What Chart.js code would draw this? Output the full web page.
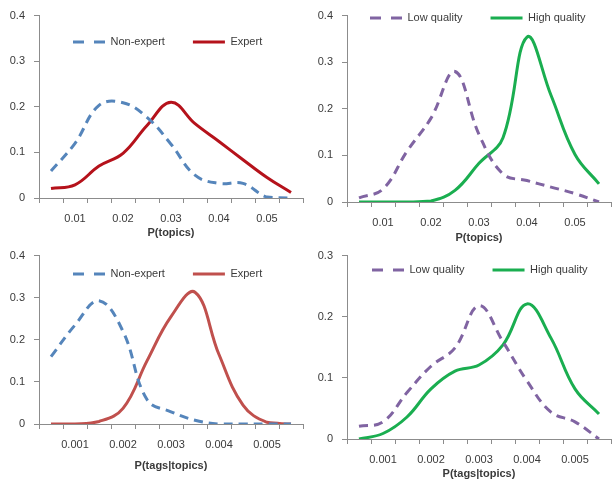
<!DOCTYPE html>
<html>
<head>
<meta charset="utf-8">
<script src="https://cdn.jsdelivr.net/npm/chart.js@4.4.1/dist/chart.umd.min.js"></script>
<style>
  body { margin: 0; background: #fff; }
  #wrap { position: relative; width: 616px; height: 481px; overflow: hidden; }
  canvas { position: absolute; }
</style>
</head>
<body>
<div id="wrap">
  <canvas id="chartTopicsExpert" width="308" height="240" style="left:0;top:0"></canvas>
  <canvas id="chartTopicsQuality" width="308" height="246" style="left:308px;top:0"></canvas>
  <canvas id="chartTagsExpert" width="308" height="241" style="left:0;top:240px"></canvas>
  <canvas id="chartTagsQuality" width="308" height="241" style="left:308px;top:240px"></canvas>
</div>
<script>
const topicLabels = ['0.005', '0.01', '0.015', '0.02', '0.025', '0.03', '0.035', '0.04', '0.045', '0.05', '0.055'];
const tagLabels = ['0.0005', '0.001', '0.0015', '0.002', '0.0025', '0.003', '0.0035', '0.004', '0.0045', '0.005', '0.0055'];

const topicNonExpert = [0.059, 0.12, 0.203, 0.209, 0.177, 0.118, 0.05, 0.032, 0.032, 0.002, 0];
const topicExpert = [0.021, 0.029, 0.07, 0.098, 0.159, 0.21, 0.163, 0.124, 0.084, 0.045, 0.012];
const topicLowQuality = [0.009, 0.028, 0.109, 0.18, 0.28, 0.145, 0.06, 0.046, 0.032, 0.018, 0];
const topicHighQuality = [0, 0, 0, 0.002, 0.025, 0.083, 0.138, 0.354, 0.229, 0.102, 0.039];

const tagNonExpert = [0.16, 0.235, 0.293, 0.22, 0.058, 0.029, 0.009, 0, 0, 0, 0];
const tagExpert = [0, 0, 0.006, 0.037, 0.15, 0.255, 0.313, 0.165, 0.045, 0.004, 0];
const tagLowQuality = [0.021, 0.028, 0.076, 0.119, 0.149, 0.218, 0.159, 0.095, 0.044, 0.028, 0];
const tagHighQuality = [0, 0.009, 0.036, 0.082, 0.111, 0.121, 0.154, 0.221, 0.165, 0.082, 0.041];

const axisGray = '#8c8c8c';
const textColor = '#3a3a3a';
Chart.defaults.font.family = "'Liberation Sans', Arial, sans-serif";
Chart.defaults.font.size = 11;
Chart.defaults.color = textColor;

// legend sits inside the plot, so it must not take any layout height
const legendInside = {
  id: 'legendInside',
  afterInit(chart) {
    const lg = chart.legend;
    const fit = lg.fit;
    lg.fit = function() {
      fit.call(this);
      this.height = 0;
    };
  },
  beforeDraw(chart, args, opts) {
    const lg = chart.legend;
    const pad = lg.options.labels.padding;
    lg.left = opts.x - pad;
    lg.right = lg.left + chart.width;
    lg.top = opts.y - pad - 5.5;
    lg.bottom = lg.top + pad + 20;  // legend clips to its box
  }
};

// point-style legend items take the point's style, so copy the line dash back in
function legendItems(chart) {
  let items = Chart.defaults.plugins.legend.labels.generateLabels(chart);
  items.forEach(function(item) {
    let ds = chart.data.datasets[item.datasetIndex];
    item.lineDash = ds.borderDash.length ? [11, 10] : [];
    item.lineWidth = ds.borderWidth;
  });
  return items;
}

function series(label, values, color, dashed) {
  return {
    label: label,
    data: values,
    borderColor: color,
    backgroundColor: color,
    borderWidth: 3,
    borderDash: dashed ? [9, 6] : [],
    pointRadius: 0,
    tension: 0.4,
    fill: false,
  };
}

function createChart(canvasId, p) {
  let ctx = document.getElementById(canvasId).getContext('2d');
  return new Chart(ctx, {
    type: 'line',
    data: {
      labels: p.labels,
      datasets: p.datasets,
    },
    plugins: [legendInside],
    options: {
      responsive: false,
      animation: false,
      layout: { padding: { left: 0, right: 5, top: p.top, bottom: 0 } },
      plugins: {
        tooltip: { enabled: false },
        legend: {
          position: 'top',
          align: 'start',
          labels: {
            usePointStyle: true,
            pointStyle: 'line',
            pointStyleWidth: 32,
            padding: 28,
            color: textColor,
            font: { size: 11 },
            generateLabels: legendItems,
          },
        },
        legendInside: { x: p.legendX, y: p.legendY },
      },
      scales: {
        x: {
          type: 'category',
          offset: true,
          afterFit: function(scale) { scale.height = p.xHeight; },
          grid: { offset: true, drawOnChartArea: false, drawTicks: true, tickLength: 5, color: axisGray },
          border: { display: true, color: axisGray },
          ticks: {
            autoSkip: false,
            maxRotation: 0,
            padding: 9,
            callback: function(val, i) { return i % 2 === 1 ? this.getLabelForValue(val) : ''; },
          },
          title: {
            display: true,
            text: p.title,
            color: textColor,
            font: { size: 11, weight: 'bold' },
            padding: { top: 0, bottom: p.titlePad },
          },
        },
        y: {
          min: 0,
          max: p.yMax,
          afterFit: function(scale) { scale.width = 39; },
          grid: { drawOnChartArea: false, drawTicks: true, tickLength: 5, color: axisGray },
          border: { display: true, color: axisGray },
          ticks: { stepSize: 0.1, padding: 9 },
        },
      },
    },
  });
}

createChart('chartTopicsExpert', {
  labels: topicLabels,
  datasets: [series('Non-expert', topicNonExpert, '#5585bb', true), series('Expert', topicExpert, '#b5121b', false)],
  top: 11, xHeight: 42, yMax: 0.4, title: 'P(topics)', titlePad: 0, legendX: 73, legendY: 42,
});
createChart('chartTopicsQuality', {
  labels: topicLabels,
  datasets: [series('Low quality', topicLowQuality, '#8064a2', true), series('High quality', topicHighQuality, '#1aae50', false)],
  top: 13, xHeight: 44, yMax: 0.4, title: 'P(topics)', titlePad: 1, legendX: 62, legendY: 18,
});
createChart('chartTagsExpert', {
  labels: tagLabels,
  datasets: [series('Non-expert', tagNonExpert, '#5585bb', true), series('Expert', tagExpert, '#c0504d', false)],
  top: 13, xHeight: 57, yMax: 0.4, title: 'P(tags|topics)', titlePad: 8, legendX: 73, legendY: 34,
});
createChart('chartTagsQuality', {
  labels: tagLabels,
  datasets: [series('Low quality', tagLowQuality, '#8064a2', true), series('High quality', tagHighQuality, '#1aae50', false)],
  top: 13, xHeight: 42, yMax: 0.3, title: 'P(tags|topics)', titlePad: 0, legendX: 64, legendY: 30,
});
</script>
</body>
</html>
